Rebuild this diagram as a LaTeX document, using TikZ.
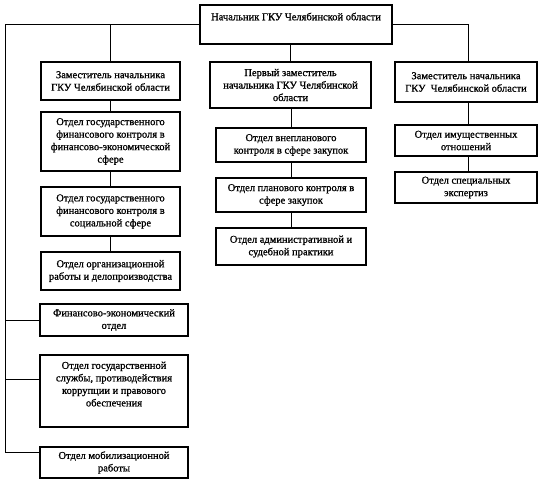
\documentclass[tikz,border=0pt]{standalone}
\usepackage{fontspec}
\setmainfont{Liberation Serif}
\newfontfamily\orgfont{Liberation Serif}[FakeBold=1]
\usepackage{tikz}
\usetikzlibrary{calc}

\tikzset{
  unit/.style={draw, line width=1.1pt, align=center, inner sep=1pt,
    font=\orgfont\fontsize{10.5}{12.5}\selectfont},
  link/.style={line width=0.8pt}
}

\begin{document}
\begin{tikzpicture}[x=1pt, y=-1pt]
\useasboundingbox (0,0) rectangle (541,483);
% head and deputies
\node[unit, minimum width=192, minimum height=39, text depth=16pt] (head) at (296,24.5) {Начальник ГКУ Челябинской области};
\node[unit, minimum width=139, minimum height=38] (ldep) at (110.5,81) {Заместитель начальника\\ГКУ Челябинской области};
\node[unit, minimum width=161, minimum height=46] (mdep) at (290.5,85) {Первый заместитель\\начальника ГКУ Челябинской\\области};
\node[unit, minimum width=142, minimum height=40] (rdep) at (466,82) {Заместитель начальника\\ГКУ~ Челябинской области};
% left column
\node[unit, minimum width=139, minimum height=59] (l1) at (110.5,141.5) {Отдел государственного\\финансового контроля в\\финансово-экономической\\сфере};
\node[unit, minimum width=139, minimum height=49] (l2) at (110.5,211.5) {Отдел государственного\\финансового контроля в\\социальной сфере};
\node[unit, minimum width=139, minimum height=38] (l3) at (110.5,271) {Отдел организационной\\работы и делопроизводства};
% departments under the head
\node[unit, minimum width=148, minimum height=32] (f1) at (114,320) {Финансово-экономический\\отдел};
\node[unit, minimum width=148, minimum height=72, text depth=14pt] (f2) at (114,391) {Отдел государственной\\службы, противодействия\\коррупции и правового\\обеспечения};
\node[unit, minimum width=148, minimum height=31] (f3) at (114,462.5) {Отдел мобилизационной\\работы};
% middle column
\node[unit, minimum width=150, minimum height=34] (m1) at (291,145) {Отдел внепланового\\контроля в сфере закупок};
\node[unit, minimum width=150, minimum height=34] (m2) at (291,195) {Отдел планового контроля в\\сфере закупок};
\node[unit, minimum width=150, minimum height=37] (m3) at (291,246.5) {Отдел административной и\\судебной практики};
% right column
\node[unit, minimum width=142, minimum height=31] (r1) at (466,140.5) {Отдел имущественных\\отношений};
\node[unit, minimum width=142, minimum height=31] (r2) at (466,187.5) {Отдел специальных\\экспертиз};

% connectors
\coordinate (rb) at (468,0);
\coordinate (b1) at (5,320);
\coordinate (b2) at (5,379);
\coordinate (b3) at (5,452);
\draw[link] (head.west) -| (ldep.north);
\draw[link] (head.west) -| (b3) -- (b3 -| f3.west);
\draw[link] (b1) -- (b1 -| f1.west);
\draw[link] (b2) -- (b2 -| f2.west);
\draw[link] (mdep.north |- head.south) -- (mdep.north);
\draw[link] (head.east) -| (rb |- rdep.north);
\foreach \a/\b in {ldep/l1,l1/l2,l2/l3,mdep/m1,m1/m2,m2/m3}{
\draw[link] (\b.north |- \a.south) -- (\b.north);
}
\foreach \a/\b in {rdep/r1,r1/r2}{
\draw[link] (rb |- \a.south) -- (rb |- \b.north);
}
\end{tikzpicture}
\end{document}
